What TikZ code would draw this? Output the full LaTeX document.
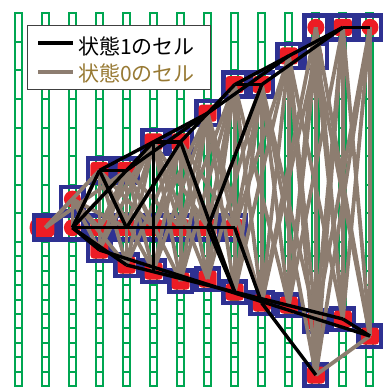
\documentclass[tikz,border=0pt]{standalone}
\usepackage{fontspec}
\newfontfamily\jpfont{Noto Sans CJK JP}

\definecolor{cellgreen}{RGB}{0,166,81}
\definecolor{boxblue}{RGB}{46,49,146}
\definecolor{cellred}{RGB}{237,28,36}
\definecolor{zerogray}{RGB}{141,125,112}
\definecolor{zerotext}{RGB}{152,122,52}

\begin{document}
\begin{tikzpicture}[x=1pt, y=-1pt,
  cellcol/.style={draw=cellgreen, line width=2pt},
  tallbox/.style={draw=boxblue, line width=4.5pt, inner sep=0pt, minimum width=22.5pt, minimum height=24pt},
  lowbox/.style={tallbox, minimum height=21.5pt},
  reddot/.style={circle, fill=cellred, inner sep=0pt, minimum size=17pt},
  redsq/.style={rectangle, rounded corners=3pt, fill=cellred, inner sep=0pt, minimum width=18pt, minimum height=17pt},
  stateone/.style={draw=black, line width=3.4pt, line join=round},
  statezero/.style={draw=zerogray, line width=3.8pt},
  legtext/.style={anchor=west, inner sep=0pt, font=\jpfont\fontsize{21}{21}\selectfont}
]
\useasboundingbox (0,0) rectangle (384,389);

% --- columns of cells ---
\foreach \i in {0,...,13}{
  \pgfmathsetmacro{\cx}{18.3+27.05*\i}
  \draw[cellcol] (\cx-3.5,13) rectangle (\cx+3.5,386);
  \foreach \k in {1,...,8}
    \draw[cellcol] (\cx-3.5,13+28.625*\k) -- (\cx+3.5,13+28.625*\k);
  \foreach \k in {1,...,9}
    \draw[cellcol] (\cx-3.5,242+14.4*\k) -- (\cx+3.5,242+14.4*\k);
}

% --- chosen cells ---
\foreach \n/\x/\y in {u2/72.4/199.1, u3/99.45/170.4, u4/126.5/170.4,
    u5/153.55/141.8, u6/180.6/141.8, u7/207.65/113.2, u8/234.7/84.6,
    u9/261.75/84.6, u10/288.8/55.9, u11/315.85/27.3, v11/315.85/55.9,
    u12/342.9/27.3, u13/369.95/27.3,
    r1/45.35/227.7, r2/72.4/227.7, r3/99.45/227.7, r4/126.5/227.7,
    r5/153.55/227.7, r6/180.6/227.7, r7/207.65/227.7, r8/234.7/227.7,
    l3/99.45/250, l4/126.5/265, l5/153.55/271, l6/180.6/281,
    l7/207.65/279, l8/234.7/292, l9/261.75/303, l10/288.8/305,
    l11/315.85/321, l12/342.9/319, l13/369.95/336, lb/315.85/375}
  \coordinate (\n) at (\x,\y);

\node[reddot, minimum size=26pt] (big) at (42.5,227.7) {};

\foreach \n in {u2,u3,u4,u5,u6,u7,u8,u9,u10,u11,v11,u12,u13,r1,r2,r3,r4,r5,r6,r7,r8}
  \node[tallbox] (f\n) at (\n) {};
\foreach \n in {l3,l4,l5,l6,l7,l8,l9,l10,l11,l12,l13,lb}
  \node[lowbox] (f\n) at (\n) {};

\foreach \n in {u2,u11,u13,r2}
  \node[reddot] (m\n) at (\n) {};
\node[reddot, minimum size=14pt] (mv11) at (v11) {};
\foreach \n in {u3,u4,u5,u6,u7,u8,u9,u10,u12,r1,r3,r4,r5,r6,r7,r8,
    l3,l4,l5,l6,l7,l8,l9,l10,l11,l12,l13,lb}
  \node[redsq] (m\n) at (\n) {};

% --- state 0 connections ---
\foreach \a/\i in {u2/2,u3/3,u4/4,u5/5,u6/6,u7/7,u8/8,u9/9,u10/10,u11/11,v11/11,u12/12,u13/13}
  \foreach \b/\j in {r1/1,r2/2,r3/3,r4/4,r5/5,r6/6,r7/7,r8/8,l3/3,l4/4,l5/5,l6/6,
      l7/7,l8/8,l9/9,l10/10,l11/11,l12/12,l13/13,lb/11}{
    \pgfmathtruncatemacro{\d}{abs(\i-\j)}
    \ifnum\d<3 \draw[statezero] (\a) -- (\b); \fi
  }
\draw[statezero] (l13) -- (lb);
\draw[statezero] (r1) -- (u4);

% --- state 1 connections ---
\foreach \a/\b in {r2/u3, r2/u5, u3/u4, u3/u7, u4/u10, u5/u6, u6/u7, u7/u8,
    u8/u9, u8/u10, u10/u12, u9/u12, u12/u13, u9/r7, u3/r4, u6/r4,
    r2/l3, r2/l4, r2/r8, l3/l13, l4/l12, l12/l13, r7/l8, r8/l9, l9/lb,
    u5/l5, u6/l8}
  \draw[stateone] (\a) -- (\b);

% --- legend ---
\node[draw=black!75, line width=1.3pt, fill=white, inner sep=0pt,
  minimum width=182.5pt, minimum height=63.5pt] (legend) at (119,57.5) {};
\coordinate (k1s) at (38,43);
\coordinate (k1e) at (73,43);
\coordinate (k0s) at (38,72);
\coordinate (k0e) at (73,72);
\draw[stateone, line width=4pt] (k1s) -- (k1e);
\draw[statezero, line width=4pt] (k0s) -- (k0e);
\node[legtext] (t1) at (78,46) {状態1のセル};
\node[legtext, text=zerotext] (t0) at (78,73) {状態0のセル};

\end{tikzpicture}
\end{document}
